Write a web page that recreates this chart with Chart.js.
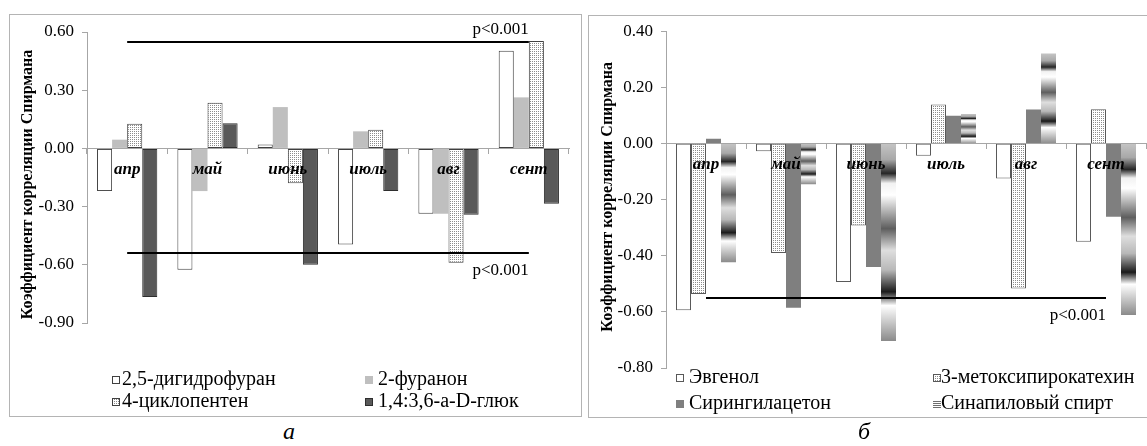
<!DOCTYPE html>
<html>
<head>
<meta charset="utf-8">
<script src="https://cdn.jsdelivr.net/npm/chart.js@4.4.0/dist/chart.umd.min.js"></script>
<style>
    body { margin: 0; background: #fff; width: 1147px; height: 446px; overflow: hidden; position: relative; font-family: "Liberation Serif", serif; }
    .panel { position: absolute; border: 1px solid #b4b4b4; }
    .panel canvas { display: block; }
    #panelA { left: 9px; top: 14px; }
    #panelB { left: 588px; top: 15px; }
    .cap { position: absolute; top: 416px; font-style: italic; font-size: 24px; line-height: 30px; transform: translateX(-50%); }
</style>
</head>
<body>
<div class="panel" id="panelA"><canvas id="chartA" width="571" height="401"></canvas></div>
<div class="panel" id="panelB"><canvas id="chartB" width="560" height="401"></canvas></div>
<div class="cap" style="left:289px">а</div>
<div class="cap" style="left:864px">б</div>
<script>
    const months = ['апр', 'май', 'июнь', 'июль', 'авг', 'сент'];

    // panel а
    const dihydrofuran = [-0.22, -0.625, 0.02, -0.495, -0.337, 0.503];
    const furanone = [0.045, -0.22, 0.213, 0.088, -0.337, 0.263];
    const cyclopentene = [0.127, 0.235, -0.18, 0.096, -0.59, 0.553];
    const anhydroGlucose = [-0.766, 0.129, -0.60, -0.22, -0.342, -0.285];
    const yTicksA = [-0.90, -0.60, -0.30, 0.00, 0.30, 0.60];
    const pLevelsA = [0.55, -0.54];

    // panel б
    const eugenol = [-0.594, -0.027, -0.493, -0.043, -0.124, -0.35];
    const methoxyPyrocatechol = [-0.536, -0.39, -0.292, 0.14, -0.516, 0.123];
    const syringylAcetone = [0.018, -0.585, -0.44, 0.10, 0.122, -0.26];
    const sinapylAlcohol = [-0.423, -0.144, -0.704, 0.106, 0.322, -0.611];
    const yTicksB = [-0.80, -0.60, -0.40, -0.20, 0.00, 0.20, 0.40];
    const pLevelsB = [-0.55];

    const yTitle = 'Коэффициент корреляции Спирмана';
    const FONT = '"Liberation Serif"';
    const AXIS_GRAY = '#a6a6a6';

    function dotPattern() {
        const c = document.createElement('canvas');
        c.width = 2; c.height = 2;
        const g = c.getContext('2d');
        g.fillStyle = '#ffffff';
        g.fillRect(0, 0, 2, 2);
        g.fillStyle = '#8c8c8c';
        g.fillRect(0, 0, 1, 1);
        return g.createPattern(c, 'repeat');
    }

    // excel-like "chrome" gradient, stretched over each bar
    const chromeStops = [
        [0, '#c4c4c4'], [0.08, '#a8a8a8'], [0.15, '#262626'], [0.2, '#f2f2f2'],
        [0.26, '#ffffff'], [0.43, '#5e5e5e'], [0.54, '#dedede'], [0.64, '#b8b8b8'],
        [0.75, '#1a1a1a'], [0.82, '#ffffff'], [1, '#8a8a8a']
    ];
    function chromeFill(context) {
        const chart = context.chart;
        const y = chart.scales && chart.scales.y;
        if (context.type !== 'data' || !y || !chart.chartArea) return '#9a9a9a';
        const p0 = y.getPixelForValue(0);
        const p1 = y.getPixelForValue(context.raw);
        const top = Math.min(p0, p1), bot = Math.max(p0, p1);
        if (!isFinite(top) || bot - top < 1) return '#9a9a9a';
        const grad = chart.ctx.createLinearGradient(0, top, 0, bot);
        chromeStops.forEach(s => grad.addColorStop(s[0], s[1]));
        return grad;
    }

    const pLinesPlugin = {
        id: 'pLines',
        afterDatasetsDraw(chart, args, opts) {
            const { ctx, scales: { x, y } } = chart;
            const x0 = x.getPixelForValue(0);
            const x1 = x.getPixelForValue(months.length - 1);
            ctx.save();
            ctx.strokeStyle = '#000';
            ctx.lineWidth = 2;
            ctx.fillStyle = '#000';
            ctx.font = '17px ' + FONT;
            ctx.textAlign = 'right';
            ctx.textBaseline = 'middle';
            opts.levels.forEach(v => {
                const py = Math.round(y.getPixelForValue(v));
                ctx.beginPath();
                ctx.moveTo(x0, py);
                ctx.lineTo(x1, py);
                ctx.stroke();
                ctx.fillText('p<0.001', x1, v > 0 ? py - 12 : py + 18);
            });
            ctx.restore();
        }
    };

    const yTitlePlugin = {
        id: 'yTitle',
        afterDraw(chart, args, opts) {
            const { ctx, chartArea } = chart;
            ctx.save();
            ctx.translate(opts.x, (chartArea.top + chartArea.bottom) / 2 + opts.shift);
            ctx.rotate(-Math.PI / 2);
            ctx.font = 'bold 16px ' + FONT;
            ctx.fillStyle = '#000';
            ctx.textAlign = 'center';
            ctx.textBaseline = 'middle';
            ctx.fillText(yTitle, 0, 0);
            ctx.restore();
        }
    };

    const legendPlugin = {
        id: 'boxLegend',
        afterDraw(chart, args, opts) {
            const ctx = chart.ctx;
            ctx.save();
            ctx.font = '20px ' + FONT;
            ctx.textBaseline = 'middle';
            chart.data.datasets.forEach((ds, i) => {
                const [mx, tx, ty] = opts.slots[i];
                const my = Math.round(ty - 4);
                if (ds.legendMarker === 'stripes') {
                    ctx.fillStyle = '#ffffff';
                    ctx.fillRect(mx, my, 8, 8);
                    ctx.fillStyle = '#6e6e6e';
                    for (let k = 0; k < 4; k++) ctx.fillRect(mx, my + k * 2 + 1, 8, 1);
                } else {
                    ctx.fillStyle = ds.backgroundColor;
                    ctx.fillRect(mx, my, 8, 8);
                    if (ds.borderWidth) {
                        ctx.strokeStyle = ds.borderColor;
                        ctx.lineWidth = 1;
                        ctx.strokeRect(mx + 0.5, my + 0.5, 7, 7);
                    }
                }
                ctx.fillStyle = '#000';
                ctx.fillText(ds.label, tx, ty);
            });
            ctx.restore();
        }
    };

    function makeChart(id, datasets, yTicks, pLevels, padding, legendSlots, titlePos) {
        const ctx = document.getElementById(id).getContext('2d');
        return new Chart(ctx, {
            type: 'bar',
            data: { labels: months, datasets: datasets },
            options: {
                responsive: false,
                animation: false,
                layout: { padding: padding },
                datasets: { bar: { categoryPercentage: 0.75, barPercentage: 1.0 } },
                plugins: {
                    legend: { display: false },
                    tooltip: { enabled: false },
                    pLines: { levels: pLevels },
                    boxLegend: { slots: legendSlots },
                    yTitle: titlePos
                },
                scales: {
                    x: {
                        position: { y: 0 },
                        offset: true,
                        grid: { offset: true, drawOnChartArea: false, drawTicks: true, tickLength: 5, color: AXIS_GRAY, z: 1 },
                        border: { color: AXIS_GRAY, width: 1, z: 1 },
                        ticks: {
                            z: 2,
                            color: '#000',
                            padding: 6,
                            autoSkip: false,
                            maxRotation: 0,
                            font: { family: FONT, size: 17, weight: 'bold', style: 'italic' }
                        }
                    },
                    y: {
                        min: yTicks[0],
                        max: yTicks[yTicks.length - 1],
                        ticks: {
                            stepSize: yTicks[1] - yTicks[0],
                            color: '#000',
                            padding: 8,
                            font: { family: FONT, size: 17, lineHeight: 0.9 },
                            callback: v => (Math.abs(v) < 1e-9 ? 0 : v).toFixed(2)
                        },
                        grid: { drawOnChartArea: false, drawTicks: true, tickLength: 5, color: AXIS_GRAY },
                        border: { color: AXIS_GRAY },
                        afterFit: scale => { scale.width = 77; }
                    }
                }
            },
            plugins: [pLinesPlugin, yTitlePlugin, legendPlugin]
        });
    }

    function drawAll() {
        const dots = dotPattern();
        makeChart('chartA', [
            { label: '2,5-дигидрофуран', data: dihydrofuran, backgroundColor: '#ffffff', borderColor: '#404040', borderWidth: 1, borderSkipped: false },
            { label: '2-фуранон', data: furanone, backgroundColor: '#bfbfbf', borderWidth: 0 },
            { label: '4-циклопентен', data: cyclopentene, backgroundColor: dots, borderColor: '#404040', borderWidth: 1, borderSkipped: false },
            { label: '1,4:3,6-а-D-глюк', data: anhydroGlucose, backgroundColor: '#595959', borderColor: '#2e2e2e', borderWidth: 1, borderSkipped: false }
        ], yTicksA, pLevelsA, { left: 0, top: 17, right: 12, bottom: 93 },
        [[102, 112, 365], [355, 368, 365], [102, 112, 387], [355, 368, 387]],
        { x: 18, shift: 7 });

        makeChart('chartB', [
            { label: 'Эвгенол', data: eugenol, backgroundColor: '#ffffff', borderColor: '#595959', borderWidth: 1, borderSkipped: false },
            { label: '3-метоксипирокатехин', data: methoxyPyrocatechol, backgroundColor: dots, borderColor: '#595959', borderWidth: 1, borderSkipped: false },
            { label: 'Сирингилацетон', data: syringylAcetone, backgroundColor: '#7f7f7f', borderWidth: 0 },
            { label: 'Синапиловый спирт', data: sinapylAlcohol, backgroundColor: chromeFill, borderWidth: 0, legendMarker: 'stripes' }
        ], yTicksB, pLevelsB, { left: 0, top: 8, right: 3, bottom: 49 },
        [[87, 100, 362], [344, 352, 362], [87, 100, 388], [344, 352, 388]],
        { x: 19, shift: -3 });
    }

    Promise.all([
        document.fonts.load('17px "Liberation Serif"'),
        document.fonts.load('bold 16px "Liberation Serif"'),
        document.fonts.load('italic bold 17px "Liberation Serif"')
    ]).then(drawAll, drawAll);
</script>
</body>
</html>
